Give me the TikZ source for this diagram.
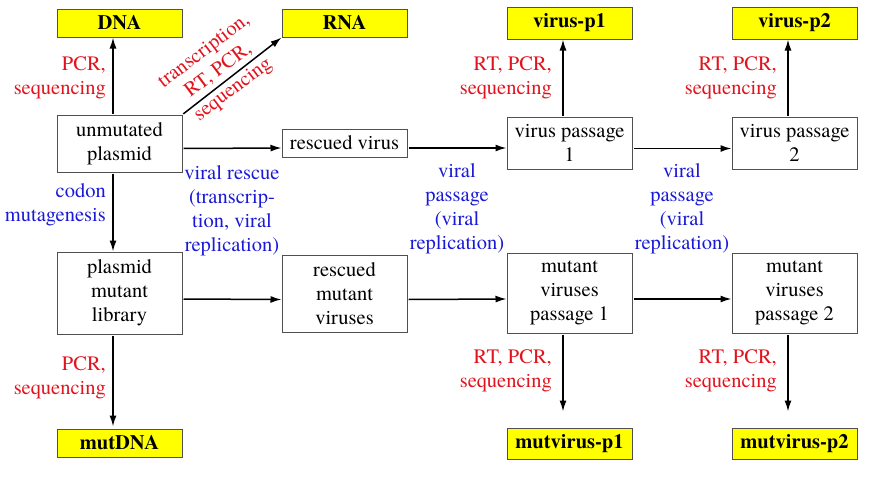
\documentclass[tikz,border=0pt]{standalone}
\usepackage{fontspec}
\setmainfont{texgyretermes}[Extension=.otf, UprightFont=*-regular, BoldFont=*-bold, ItalicFont=*-italic, BoldItalicFont=*-bolditalic]
\usetikzlibrary{arrows.meta}
\definecolor{lblred}{RGB}{225,20,30}
\definecolor{lblblue}{RGB}{25,25,215}
\definecolor{boxyellow}{RGB}{255,255,0}
\definecolor{boxline}{RGB}{80,80,80}
\begin{document}
\begin{tikzpicture}[x=1pt,y=-1pt,
  every node/.style={font=\fontsize{20.5}{24}\selectfont},
  box/.style={draw=boxline, line width=1pt, minimum width=125pt, inner sep=0pt, align=center},
  ybox/.style={box, fill=boxyellow, font=\fontsize{20.5}{24}\selectfont\bfseries, minimum height=28pt},
  redlbl/.style={text=lblred, align=right, anchor=east, inner sep=0pt},
  bluelbl/.style={text=lblblue, align=center, inner sep=0pt},
  arr/.style={line width=1.5pt, shorten <=1pt, -{Latex[length=11pt,width=7pt]}}
]
\useasboundingbox (0,0) rectangle (875,480);
% yellow result boxes
\node[ybox] (dna) at (119.5,23) {DNA};
\node[ybox] (rna) at (344.5,23) {RNA};
\node[ybox, minimum height=32pt] (vp1) at (569.5,23) {virus-p1};
\node[ybox, minimum height=32pt] (vp2) at (794.5,23) {virus-p2};
\node[ybox] (mdna) at (119.5,443) {mutDNA};
\node[ybox, minimum height=31pt] (mv1) at (569.5,443.5) {mutvirus-p1};
\node[ybox, minimum height=31pt] (mv2) at (794.5,443.5) {mutvirus-p2};
% process boxes
\node[box, minimum height=57pt] (unm) at (119.5,143.5) {unmutated\\plasmid};
\node[box, minimum height=28pt] (resc) at (344.5,143) {rescued virus};
\node[box, minimum height=52pt] (pass1) at (569.5,143) {virus passage\\1};
\node[box, minimum height=52pt] (pass2) at (794.5,143) {virus passage\\2};
\node[box, minimum height=82pt] (lib) at (119.5,293) {plasmid\\mutant\\library};
\node[box, minimum height=77pt] (rmut) at (344.5,293.5) {rescued\\mutant\\viruses};
\node[box, minimum height=80pt] (mp1) at (569.5,293) {mutant\\viruses\\passage 1};
\node[box, minimum height=80pt] (mp2) at (794.5,293) {mutant\\viruses\\passage 2};
% arrows
\draw[arr] ([xshift=-6.5pt]unm.north) -- ([xshift=-6.5pt]dna.south);
\draw[arr] (unm.north east) -- (rna.south west);
\draw[arr] ([yshift=-5pt]unm.east) -- ([yshift=-5pt]resc.west);
\draw[arr] ([yshift=-5pt]resc.east) -- ([yshift=-5pt]pass1.west);
\draw[arr] ([yshift=-5.5pt]pass1.east) -- ([yshift=-5.5pt]pass2.west);
\draw[arr] ([xshift=-6.5pt]pass1.north) -- ([xshift=-6.5pt]vp1.south);
\draw[arr] ([xshift=-6.5pt]pass2.north) -- ([xshift=-6.5pt]vp2.south);
\draw[arr] ([xshift=-6.5pt]unm.south) -- ([xshift=-6.5pt]lib.north);
\draw[arr] ([yshift=-6pt]lib.east) -- ([yshift=-6pt]rmut.west);
\draw[arr] ([yshift=-6pt]rmut.east) -- ([yshift=-6pt]mp1.west);
\draw[arr] ([yshift=-6pt]mp1.east) -- ([yshift=-6pt]mp2.west);
\draw[arr, shorten >=2pt] ([xshift=-6.5pt]lib.south) -- ([xshift=-6.5pt]mdna.north);
\draw[arr, shorten >=16pt] ([xshift=-6.5pt]mp1.south) -- ([xshift=-6.5pt]mv1.north);
\draw[arr, shorten >=16pt] ([xshift=-6.5pt]mp2.south) -- ([xshift=-6.5pt]mv2.north);
% labels
\node[redlbl] (l1) at (106,78) {PCR,\\sequencing};
\node[text=lblred, align=center, rotate=37, inner sep=0pt] (l11) at (219,71) {transcription,\\RT, PCR,\\sequencing};
\node[redlbl] (l6) at (552,78) {RT, PCR,\\sequencing};
\node[redlbl] (l7) at (777,78) {RT, PCR,\\sequencing};
\node[bluelbl, anchor=east, align=right] (l2) at (106,205) {codon\\mutagenesis};
\node[bluelbl] (l3) at (232,211) {viral rescue\\(transcrip-\\tion, viral\\replication)};
\node[bluelbl] (l4) at (457,209) {viral\\passage\\(viral\\replication)};
\node[bluelbl] (l5) at (682,209) {viral\\passage\\(viral\\replication)};
\node[redlbl] (l8) at (106,378) {PCR,\\sequencing};
\node[redlbl] (l9) at (552,371) {RT, PCR,\\sequencing};
\node[redlbl] (l10) at (777,371) {RT, PCR,\\sequencing};
\end{tikzpicture}
\end{document}
